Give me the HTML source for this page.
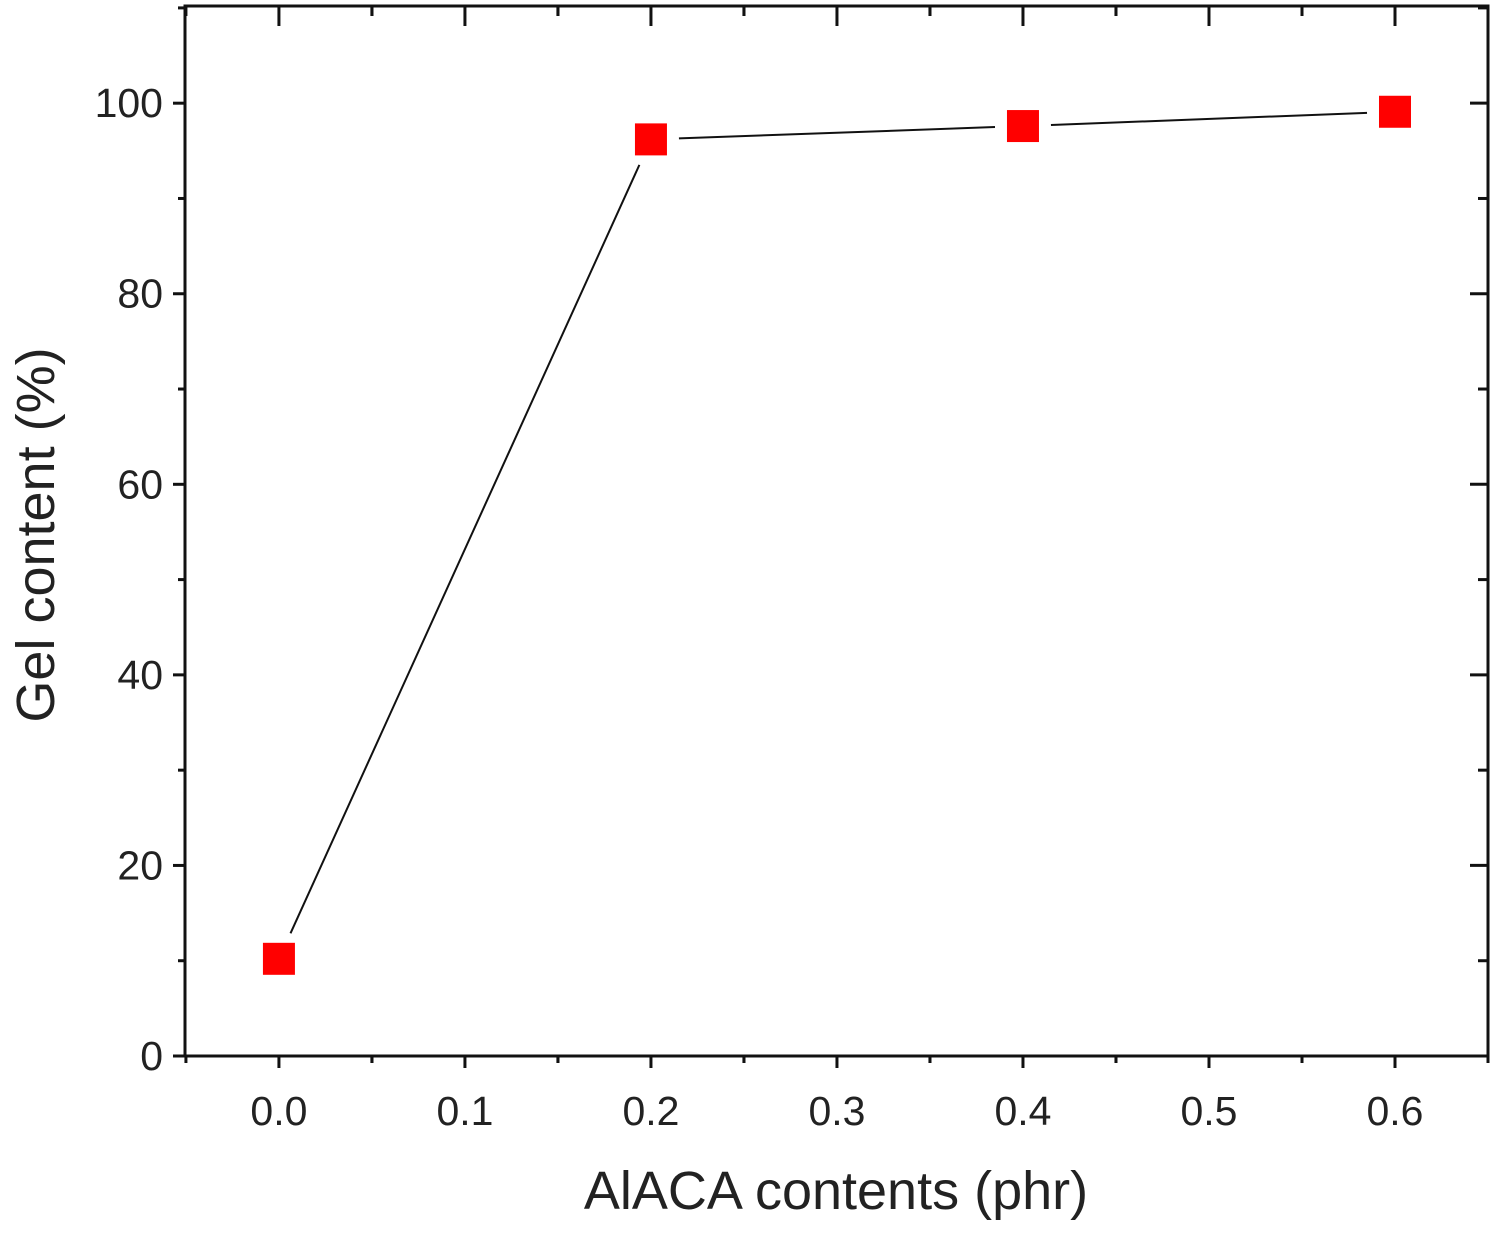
<!DOCTYPE html>
<html><head><meta charset="utf-8"><style>
html,body{margin:0;padding:0;background:#fff;}
svg text{font-family:"Liberation Sans",Arial,sans-serif;fill:#222;}
</style></head><body>
<svg id="chart" width="1496" height="1234" viewBox="0 0 1496 1234" xmlns="http://www.w3.org/2000/svg">
<g id="axes"></g>
<g id="series"></g>
<text x="836" y="1209" font-size="54" text-anchor="middle">AlACA contents (phr)</text>
<text transform="translate(54,535) rotate(-90)" font-size="54" text-anchor="middle">Gel content (%)</text>
</svg>
<script>
const xValues = [0.0, 0.2, 0.4, 0.6];
const gelContent = [10.2, 96.2, 97.6, 99.1];
const xTicks = [0.0, 0.1, 0.2, 0.3, 0.4, 0.5, 0.6];
const xTickLabels = ["0.0","0.1","0.2","0.3","0.4","0.5","0.6"];
const yTicks = [0, 20, 40, 60, 80, 100];
const yTickLabels = ["0","20","40","60","80","100"];

const L=185,R=1488,T=6,B=1056;
const xMin=-0.0505,xMax=0.65,yMin=0,yMax=110.2;
const sx=v=>L+(v-xMin)/(xMax-xMin)*(R-L);
const sy=v=>B-(v-yMin)/(yMax-yMin)*(B-T);
const NS="http://www.w3.org/2000/svg";
function mk(tag,attrs,parent){const e=document.createElementNS(NS,tag);for(const k in attrs)e.setAttribute(k,attrs[k]);parent.appendChild(e);return e;}
const ax=document.getElementById('axes');
const frame=mk('rect',{x:L,y:T,width:R-L,height:B-T,fill:'none',stroke:'#111','stroke-width':3},ax);


for(let i=0;i<xTicks.length;i++){
  const x=sx(xTicks[i]);
  const t=mk('line',{x1:x,x2:x,y1:B,y2:B+12,stroke:'#111','stroke-width':3},ax);
  
  
  mk('line',{x1:x,x2:x,y1:T,y2:T+20,stroke:'#111','stroke-width':3},ax);
  const lb=mk('text',{x:x,y:1125,'font-size':41,'text-anchor':'middle'},ax);
  lb.textContent=xTickLabels[i];
  
  
  for(const m of [xTicks[i]-0.05, xTicks[i]+0.05]){
    if(m<xMin||m>xMax)continue;
    const mx=sx(m);
    mk('line',{x1:mx,x2:mx,y1:B,y2:B+7,stroke:'#111','stroke-width':3},ax);
    mk('line',{x1:mx,x2:mx,y1:T,y2:T+10,stroke:'#111','stroke-width':3},ax);
  }
}
for(let i=0;i<yTicks.length;i++){
  const y=sy(yTicks[i]);
  const t=mk('line',{x1:L-12,x2:L,y1:y,y2:y,stroke:'#111','stroke-width':3},ax);
  
  
  mk('line',{x1:R-18,x2:R,y1:y,y2:y,stroke:'#111','stroke-width':3},ax);
  const lb=mk('text',{x:L-22,y:y+14,'font-size':41,'text-anchor':'end'},ax);
  lb.textContent=yTickLabels[i];
  
  
  const m=yTicks[i]+10;
  if(m<yMax){const my=sy(m);
    mk('line',{x1:L-7,x2:L,y1:my,y2:my,stroke:'#111','stroke-width':3},ax);
    mk('line',{x1:R-10,x2:R,y1:my,y2:my,stroke:'#111','stroke-width':3},ax);}
}
const sg=document.getElementById('series');
const gap=28;
for(let i=0;i<xValues.length-1;i++){
  const x1=sx(xValues[i]),y1=sy(gelContent[i]),x2=sx(xValues[i+1]),y2=sy(gelContent[i+1]);
  const d=Math.hypot(x2-x1,y2-y1),ux=(x2-x1)/d,uy=(y2-y1)/d;
  const ln=mk('line',{x1:x1+ux*gap,y1:y1+uy*gap,x2:x2-ux*gap,y2:y2-uy*gap,stroke:'#111','stroke-width':2},sg);
  
  
}
for(let i=0;i<xValues.length;i++){
  const x=sx(xValues[i]),y=sy(gelContent[i]);
  const p=mk('rect',{x:x-16,y:y-16,width:32,height:32,fill:'#ff0000'},sg);
  
  
}
</script>
</body></html>
